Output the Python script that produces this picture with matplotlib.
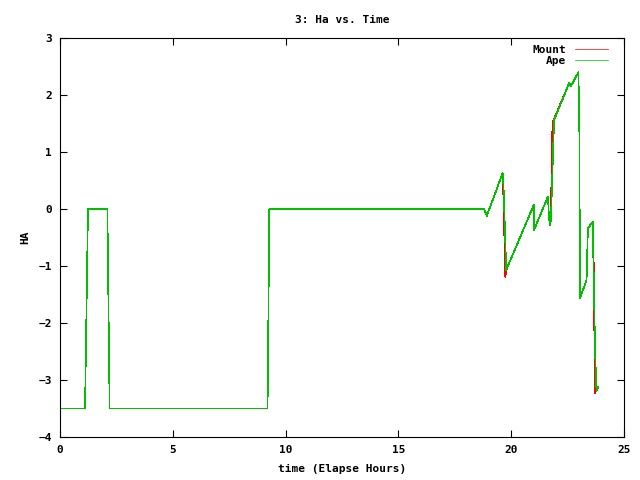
import matplotlib
matplotlib.use('Agg')
import matplotlib.pyplot as plt

# elapsed hours / hour angle
mount_t = [0.0, 1.11, 1.24, 2.10, 2.20, 9.20, 9.28, 18.80, 18.92, 19.62, 19.64,
           19.74, 19.78, 21.00, 21.01, 21.63, 21.67, 21.74, 21.76, 21.83, 21.88,
           22.58, 22.64, 22.98, 23.02, 23.05, 23.34, 23.40, 23.62, 23.63, 23.66,
           23.71, 23.74]
mount_y = [-3.5, -3.5, 0.0, 0.0, -3.5, -3.5, 0.0, 0.0, -0.12, 0.63, 0.45,
           -1.19, -1.07, 0.07, -0.37, 0.22, -0.14, -0.25, -0.05, 1.50, 1.56,
           2.22, 2.15, 2.40, 1.42, -1.56, -1.25, -0.34, -0.22, -0.78, -0.98,
           -3.23, -3.16]

ape_t = [0.0, 1.11, 1.24, 2.10, 2.20, 9.20, 9.28, 18.80, 18.92, 19.62, 19.66,
         19.78, 21.00, 21.01, 21.63, 21.67, 21.72, 21.76, 21.90, 22.58, 22.64,
         22.98, 23.02, 23.05, 23.34, 23.40, 23.62, 23.64, 23.72, 23.78, 23.85]
ape_y = [-3.5, -3.5, 0.0, 0.0, -3.5, -3.5, 0.0, 0.0, -0.12, 0.63, 0.40,
         -1.07, 0.07, -0.37, 0.22, -0.14, -0.28, -0.20, 1.56, 2.22, 2.15,
         2.40, 1.42, -1.56, -1.25, -0.34, -0.22, -0.80, -2.50, -3.20, -3.12]

xticks = [0, 5, 10, 15, 20, 25]
yticks = [-4, -3, -2, -1, 0, 1, 2, 3]

plt.rcParams['font.family'] = 'DejaVu Sans Mono'
plt.rcParams['font.weight'] = 'bold'
plt.rcParams['font.size'] = 8

fig = plt.figure(figsize=(6.4, 4.8), dpi=100)
ax = fig.add_axes([60 / 640, 1 - 437 / 480, 564 / 640, 399 / 480])

ax.plot(mount_t, mount_y, color='#ff0000', lw=0.5, label='Mount', antialiased=False)
ax.plot(ape_t, ape_y, color='#00c000', lw=0.5, label='Ape', antialiased=False)

ax.set_xlim(0, 25)
ax.set_ylim(-4, 3)
ax.set_xticks(xticks)
ax.set_yticks(yticks)
ax.tick_params(direction='in', length=5, width=0.8, top=True, right=True, pad=6)
for s in ax.spines.values():
    s.set_linewidth(0.8)

ax.set_title('3: Ha vs. Time', fontsize=8, fontweight='bold', pad=11)
ax.set_xlabel('time (Elapse Hours)', fontweight='bold', labelpad=6)
ax.set_ylabel('HA', fontweight='bold', labelpad=6)

ax.legend(loc='upper right', bbox_to_anchor=(1 - 9 / 564, 1), frameon=False,
          markerfirst=False, handlelength=3.0, handletextpad=0.8,
          labelspacing=0.1, borderaxespad=0.2)

fig.savefig('out.png', dpi=100)
